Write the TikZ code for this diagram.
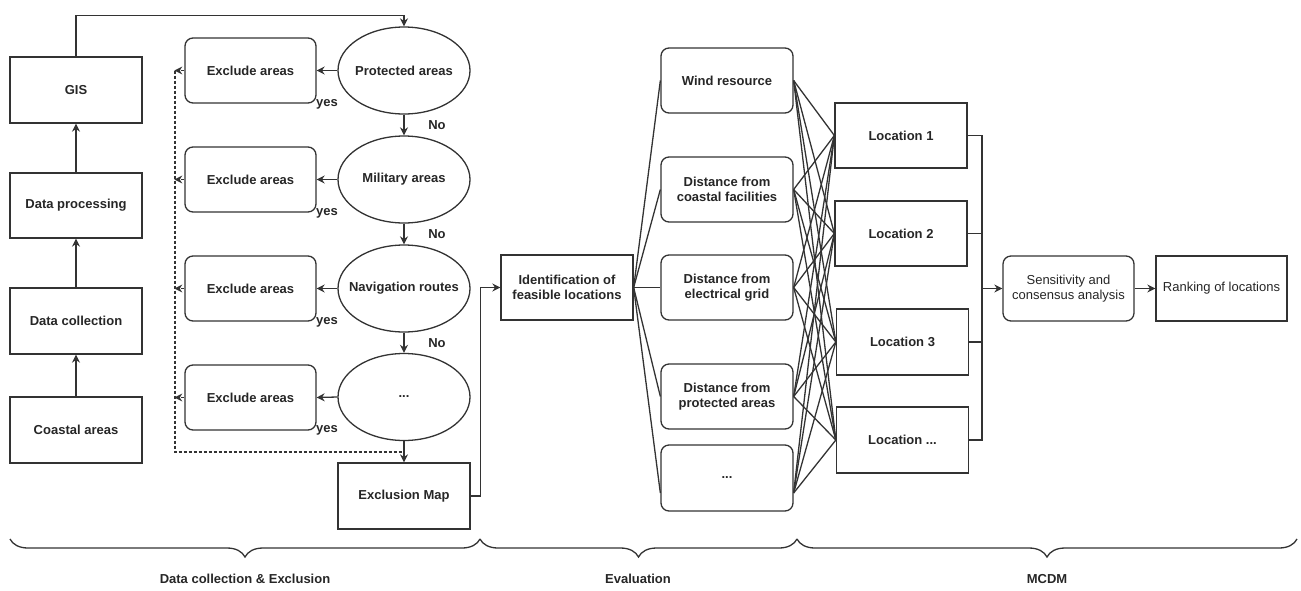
\documentclass[tikz,border=0pt]{standalone}
\usepackage{fontspec}
\setmainfont{Liberation Sans}
\usetikzlibrary{shapes.geometric,arrows.meta,decorations.pathreplacing,calc}
\begin{document}
\begin{tikzpicture}[x=1pt,y=-1pt,
  every node/.style={font=\fontsize{13}{15.5}\selectfont\bfseries, text=black!85, align=center},
  ln/.style={line width=1.3pt, draw=black!80},
  box/.style={ln, draw, rectangle, minimum width=132pt, minimum height=65pt, inner sep=2pt},
  rbox/.style={box, rounded corners=8pt},
  ell/.style={ln, draw, ellipse, minimum width=132pt, minimum height=87pt, inner sep=0pt},
  arr/.style={ln, -{Stealth[length=8pt,width=8pt]}},
  dsh/.style={dash pattern=on 3pt off 2pt},
  lab/.style={font=\fontsize{13}{15.5}\selectfont\bfseries},
  brc/.style={ln, decorate, decoration={brace, amplitude=18pt}}
]
\useasboundingbox (0,0) rectangle (1301,590);

% left column
\node[box, minimum height=66pt] (gis) at (76,90) {GIS};
\node[box] (dp) at (76,205.5) {Data processing};
\node[box, minimum height=66pt] (dc) at (76,321) {Data collection};
\node[box, minimum height=66pt] (coast) at (76,430) {Coastal areas};
\draw[arr] (coast) -- (dc);
\draw[arr] (dc) -- (dp);
\draw[arr] (dp) -- (gis);

% exclusion
\node[rbox, minimum width=131pt] (ex1) at (250.5,70.5) {Exclude areas};
\node[rbox, minimum width=131pt] (ex2) at (250.5,179.5) {Exclude areas};
\node[rbox, minimum width=131pt] (ex3) at (250.5,288.5) {Exclude areas};
\node[rbox, minimum width=131pt] (ex4) at (250.5,397.5) {Exclude areas};
\node[ell, label={[name=el1t]center:Protected areas}] (el1) at (404,70.5) {};
\node[ell, label={[name=el2t]center:Military areas}] (el2) at (404,179.5) {};
\node[ell, label={[name=el3t]center:Navigation routes}] (el3) at (404,288.5) {};
\node[ell, label={[name=el4t]center:...}] (el4) at (404,397) {};
\node[box, minimum height=66pt] (excl) at (404,496) {Exclusion Map};

\draw[arr] (gis.north) -- ++(0,-41) -| (el1.north);
\foreach \i in {1,2,3,4}{
  \draw[arr] (el\i.west) -- (ex\i.east);
  \draw[arr, dsh] (ex\i.west) -- ++(-10,0);
}
\draw[arr] (el1) -- (el2);
\draw[arr] (el2) -- (el3);
\draw[arr] (el3) -- (el4);
\draw[arr] (el4) -- (excl);
\coordinate (dtop) at (175,70.5);
\coordinate (dbot) at (175,452);
\draw[ln, dsh] (dtop) -- (dbot) -- (dbot -| excl.north);

\node[lab] (y1) at (327,104) {yes};
\node[lab] (y2) at (327,213) {yes};
\node[lab] (y3) at (327,322) {yes};
\node[lab] (y4) at (327,430) {yes};
\node[lab] (n1) at (437,125) {No};
\node[lab] (n2) at (437,234) {No};
\node[lab] (n3) at (437,343) {No};

% evaluation
\node[box] (ident) at (567,287.5) {Identification of\\feasible locations};
\draw[arr] (excl.east) -- ++(10,0) |- (ident.west);
\node[rbox] (wind) at (727,80.5) {Wind resource};
\node[rbox] (cf) at (727,189.5) {Distance from\\coastal facilities};
\node[rbox] (grid) at (727,287.5) {Distance from\\electrical grid};
\node[rbox] (pa) at (727,396.5) {Distance from\\protected areas};
\node[rbox, minimum height=66pt] (dots) at (727,478) {...};
\coordinate (dotsw) at ($(dots.west)+(0,15)$);
\coordinate (dotse) at ($(dots.east)+(0,15)$);
\foreach \t in {wind.west,cf.west,grid.west,pa.west,dotsw}{
  \draw[ln] (ident.east) -- (\t);
}

% MCDM
\node[box] (l1) at (901,135.5) {Location 1};
\node[box] (l2) at (901,233.5) {Location 2};
\node[box, minimum height=66pt] (l3) at (902.5,342) {Location 3};
\node[box, minimum height=66pt] (l4) at (902.5,440) {Location ...};
\foreach \s in {wind.east,cf.east,grid.east,pa.east,dotse}{
  \foreach \t in {l1,l2,l3,l4}{
    \draw[ln] (\s) -- (\t.west);
  }
}
\node[rbox, minimum width=131pt, font=\fontsize{13}{15.5}\selectfont] (sens) at (1068.5,288.5) {Sensitivity and\\consensus analysis};
\node[box, minimum width=131pt, font=\fontsize{13}{15.5}\selectfont] (rank) at (1221.5,288.5) {Ranking of locations};
\coordinate (bt) at (982,135.5);
\coordinate (bb) at (982,440);
\draw[ln] (l1.east) -- (bt) -- (bb) -- (l4.east);
\draw[ln] (l2.east) -- (l2.east -| bt);
\draw[ln] (l3.east) -- (l3.east -| bt);
\draw[arr] (sens.west -| bt) -- (sens.west);
\draw[arr] (sens) -- (rank);

% braces
\coordinate (b0) at (10,539);
\coordinate (b1) at (480,539);
\coordinate (b2) at (797,539);
\coordinate (b3) at (1297,539);
\draw[brc] (b1) -- (b0);
\draw[brc] (b2) -- (b1);
\draw[brc] (b3) -- (b2);
\node[lab] (t1) at (245,579) {Data collection \& Exclusion};
\node[lab] (t2) at (638,579) {Evaluation};
\node[lab] (t3) at (1047,579) {MCDM};
\end{tikzpicture}
\end{document}
